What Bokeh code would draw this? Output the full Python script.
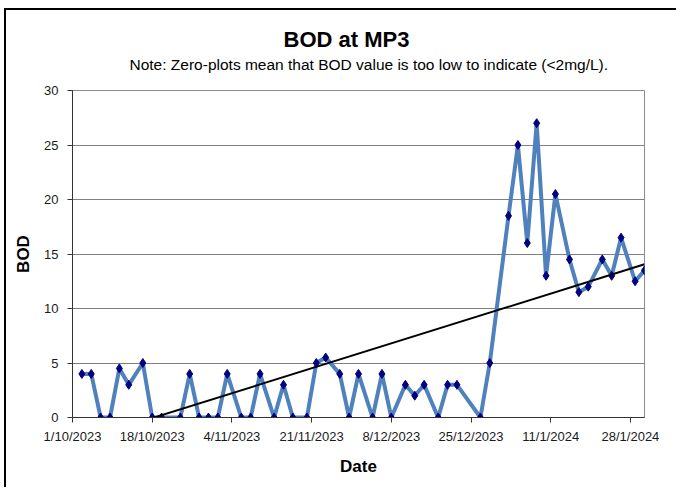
import numpy as np
import pandas as pd
from bokeh.plotting import figure
from bokeh.models import Range1d, FixedTicker, Title
from bokeh.embed import file_html
from bokeh.resources import INLINE

# ---- data ----
dates = [
    "3/10/2023", "5/10/2023", "7/10/2023", "9/10/2023", "11/10/2023", "13/10/2023",
    "16/10/2023", "18/10/2023", "20/10/2023", "24/10/2023", "26/10/2023", "28/10/2023",
    "30/10/2023", "1/11/2023", "3/11/2023", "6/11/2023", "8/11/2023", "10/11/2023",
    "13/11/2023", "15/11/2023", "17/11/2023", "20/11/2023", "22/11/2023", "24/11/2023",
    "27/11/2023", "29/11/2023", "1/12/2023", "4/12/2023", "6/12/2023", "8/12/2023",
    "11/12/2023", "13/12/2023", "15/12/2023", "18/12/2023", "20/12/2023", "22/12/2023",
    "27/12/2023", "29/12/2023", "2/1/2024", "4/1/2024", "6/1/2024", "8/1/2024",
    "10/1/2024", "12/1/2024", "15/1/2024", "17/1/2024", "19/1/2024", "22/1/2024",
    "24/1/2024", "26/1/2024", "29/1/2024", "31/1/2024",
]
bod = [
    4, 4, 0, 0, 4.5, 3,
    5, 0, 0, 0, 4, 0,
    0, 0, 4, 0, 0, 4,
    0, 3, 0, 0, 5, 5.5,
    4, 0, 4, 0, 4, 0,
    3, 2, 3, 0, 3, 3,
    0, 5, 18.5, 25, 16, 27,
    13, 20.5, 14.5, 11.5, 12, 14.5,
    13, 16.5, 12.5, 13.5,
]
x_tick_labels = ["1/10/2023", "18/10/2023", "4/11/2023", "21/11/2023",
                 "8/12/2023", "25/12/2023", "11/1/2024", "28/1/2024"]
x_end_label = "31/1/2024"
y_ticks = [0, 5, 10, 15, 20, 25, 30]

title_text = "BOD at MP3"
subtitle_text = "Note: Zero-plots mean that BOD value is too low to indicate (<2mg/L)."

# ---- convert dates to day numbers ----
start = pd.to_datetime(x_tick_labels[0], format="%d/%m/%Y")
xd = (pd.to_datetime(dates, format="%d/%m/%Y") - start).days.to_numpy().astype(float)
tx = (pd.to_datetime(x_tick_labels, format="%d/%m/%Y") - start).days.to_numpy().astype(float)
x_end = float((pd.to_datetime(x_end_label, format="%d/%m/%Y") - start).days)
yv = np.array(bod, dtype=float)

# linear trend (least squares) like an Excel linear trendline
slope, intercept = np.polyfit(xd, yv, 1)
trend_x = np.array([xd.min(), xd.max()])
trend_y = slope * trend_x + intercept

FONT = "Liberation Sans"

p = figure(width=676, height=487, output_backend="svg", toolbar_location=None,
           x_range=Range1d(0, x_end), y_range=Range1d(0, 30),
           min_border_left=72, min_border_right=32, min_border_top=90, min_border_bottom=70,
           background_fill_color="white", border_fill_color=None)

p.outline_line_color = "#8c8c8c"
p.outline_line_width = 1

# axes
p.xaxis.ticker = FixedTicker(ticks=list(tx))
p.xaxis.major_label_overrides = {float(t): lab for t, lab in zip(tx, x_tick_labels)}
p.yaxis.ticker = FixedTicker(ticks=y_ticks)
for ax in (p.xaxis[0], p.yaxis[0]):
    ax.axis_line_color = "#333333"
    ax.axis_line_width = 1
    ax.major_tick_line_color = "#333333"
    ax.major_tick_out = 5
    ax.major_tick_in = 0
    ax.minor_tick_line_color = None
    ax.major_label_text_font = FONT
    ax.major_label_text_font_size = "13px"
    ax.major_label_text_color = "#1a1a1a"
    ax.axis_label_text_font = FONT
    ax.axis_label_text_font_style = "bold"
    ax.axis_label_text_font_size = "17px"
    ax.axis_label_text_color = "#000000"

p.xaxis.axis_label = "Date"
p.xaxis.major_label_standoff = 6
p.xaxis.axis_label_standoff = 10
p.yaxis.axis_label = "BOD"
p.yaxis.major_label_standoff = 9
p.yaxis.axis_label_standoff = 8

p.xgrid.visible = False
p.ygrid.grid_line_color = "#7f7f7f"
p.ygrid.grid_line_width = 1.2

# series
p.line(xd, yv, line_color="#4f81bd", line_width=4, line_join="round")
p.scatter(xd, yv, marker="diamond", size=9, fill_color="#000080", line_color="#000080")
# trend line
p.line(trend_x, trend_y, line_color="#000000", line_width=2)

# titles: an empty spacer title keeps the note clear of the plot frame
p.add_layout(Title(text=" ", text_font=FONT, text_font_size="10px",
                   align="left", offset=0, standoff=5), "above")
p.add_layout(Title(text=subtitle_text, text_font=FONT, text_font_size="15.5px",
                   text_font_style="normal", text_color="#000000",
                   align="left", offset=57, standoff=0), "above")
p.add_layout(Title(text=title_text, text_font=FONT, text_font_size="22px",
                   text_font_style="bold", text_color="#000000",
                   align="left", offset=211, standoff=3), "above")

# outer chart-area border (left and top edges), drawn behind the transparent canvas
p.styles = {
    "background": ("linear-gradient(#000,#000) 4px 8px / 2px 479px no-repeat, "
                   "linear-gradient(#000,#000) 4px 8px / 672px 2px no-repeat, #ffffff"),
}

open("out.html", "w").write(file_html(p, INLINE))
